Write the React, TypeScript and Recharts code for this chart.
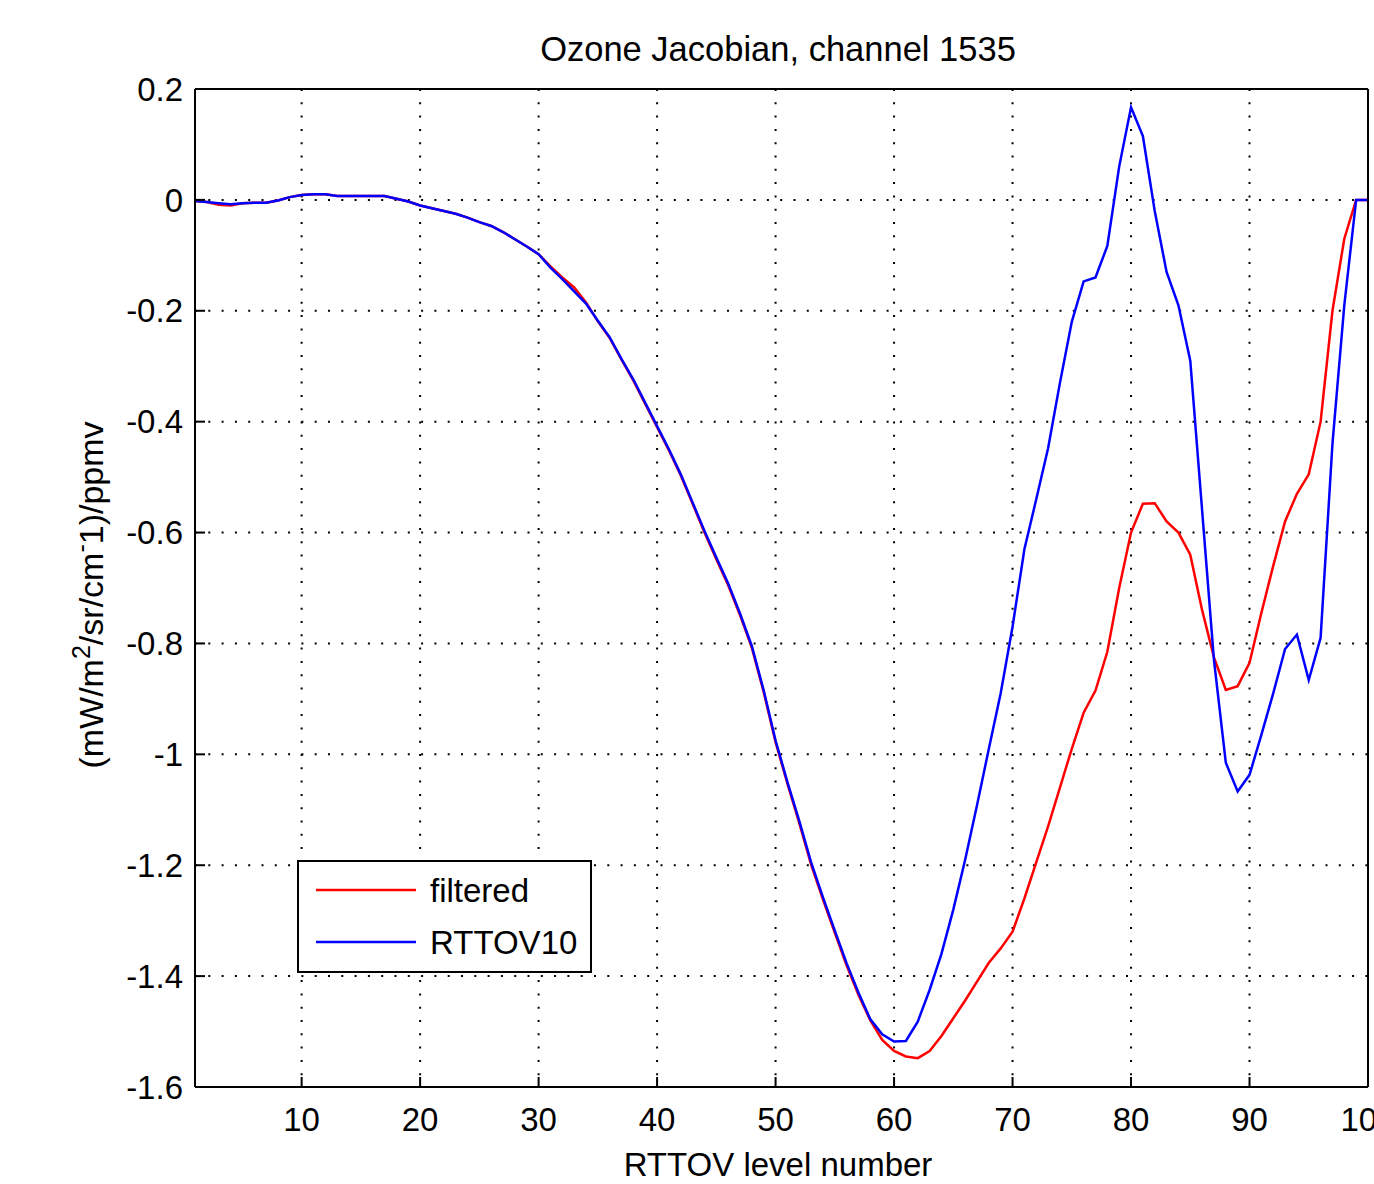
import { LineChart, Line, XAxis, YAxis, CartesianGrid, Legend } from "recharts";

// RTTOV levels 1..100
const levels = Array.from({ length: 100 }, (_, i) => i + 1);

const rttov10 = [
  -0.002, -0.004, -0.006, -0.008, -0.006, -0.005, -0.005, -0.001, 0.005, 0.009,
  0.010, 0.010, 0.007, 0.007, 0.007, 0.007, 0.007, 0.002, -0.003, -0.010,
  -0.015, -0.020, -0.025, -0.032, -0.040, -0.047, -0.058, -0.071, -0.084, -0.098,
  -0.122, -0.143, -0.165, -0.187, -0.218, -0.248, -0.287, -0.324, -0.366, -0.408,
  -0.450, -0.495, -0.546, -0.597, -0.645, -0.692, -0.746, -0.805, -0.885, -0.975,
  -1.050, -1.120, -1.195, -1.258, -1.318, -1.377, -1.430, -1.478, -1.505, -1.518,
  -1.517, -1.482, -1.425, -1.360, -1.280, -1.190, -1.092, -0.990, -0.890, -0.770,
  -0.630, -0.540, -0.448, -0.330, -0.220, -0.147, -0.140, -0.083, 0.060, 0.167,
  0.115, -0.020, -0.130, -0.190, -0.290, -0.560, -0.830, -1.015, -1.067, -1.037,
  -0.965, -0.890, -0.810, -0.784, -0.866, -0.790, -0.440, -0.190, 0.000, 0.000,
];

const filtered = [
  -0.002, -0.004, -0.009, -0.010, -0.006, -0.005, -0.005, -0.001, 0.005, 0.009,
  0.010, 0.010, 0.007, 0.007, 0.007, 0.007, 0.007, 0.002, -0.003, -0.010,
  -0.015, -0.020, -0.025, -0.032, -0.040, -0.047, -0.058, -0.071, -0.084, -0.098,
  -0.120, -0.140, -0.158, -0.185, -0.219, -0.249, -0.288, -0.326, -0.368, -0.410,
  -0.452, -0.497, -0.548, -0.600, -0.648, -0.695, -0.749, -0.808, -0.888, -0.978,
  -1.053, -1.124, -1.199, -1.262, -1.322, -1.381, -1.434, -1.480, -1.515, -1.535,
  -1.545, -1.548, -1.535, -1.508, -1.476, -1.444, -1.410, -1.376, -1.350, -1.320,
  -1.260, -1.195, -1.130, -1.060, -0.990, -0.925, -0.885, -0.815, -0.700, -0.600,
  -0.548, -0.547, -0.580, -0.600, -0.640, -0.740, -0.825, -0.884, -0.877, -0.835,
  -0.745, -0.660, -0.580, -0.530, -0.495, -0.400, -0.200, -0.070, 0.000, 0.000,
];

const xTicks = [10, 20, 30, 40, 50, 60, 70, 80, 90, 100];
const yTicks = [0.2, 0, -0.2, -0.4, -0.6, -0.8, -1, -1.2, -1.4, -1.6];

const data = levels.map((level, i) => ({
  level,
  filtered: filtered[i],
  rttov10: rttov10[i],
}));

const FONT = "'Liberation Sans', Arial, Helvetica, sans-serif";
const FS = 33;

const LegendBox = () => (
  <div
    style={{
      width: 295,
      height: 113,
      boxSizing: "border-box",
      border: "2px solid #000",
      background: "#fff",
      position: "relative",
    }}
  >
    <svg width={291} height={109} style={{ position: "absolute", left: 0, top: 0 }}>
      <line x1={17} x2={117} y1={28} y2={28} stroke="#ff0000" strokeWidth={2.5} />
      <line x1={17} x2={117} y1={80} y2={80} stroke="#0000ff" strokeWidth={2.5} />
      <text x={131} y={40} fontFamily={FONT} fontSize={FS} fill="#000">filtered</text>
      <text x={131} y={92} fontFamily={FONT} fontSize={FS} fill="#000">RTTOV10</text>
    </svg>
  </div>
);

export default function App() {
  return (
    <div style={{ position: "absolute", left: 0, top: 0, width: 1374, height: 1184, background: "#fff" }}>
      <LineChart
        width={1374}
        height={1184}
        data={data}
        margin={{ top: 88, right: 5, bottom: 37, left: 115 }}
        style={{ fontFamily: FONT }}
      >
        <CartesianGrid stroke="#000" strokeWidth={2} strokeDasharray="2 11.3" />
        <XAxis
          xAxisId={0}
          dataKey="level"
          type="number"
          domain={[1, 100]}
          ticks={xTicks}
          interval={0}
          allowDataOverflow
          height={60}
          tickSize={-10}
          tickMargin={31}
          stroke="#000"
          strokeWidth={2}
          tick={{ fill: "#000", fontSize: FS, fontFamily: FONT }}
          label={{
            content: () => (
              <text x={778} y={1176} textAnchor="middle" fontFamily={FONT} fontSize={FS} fill="#000">
                RTTOV level number
              </text>
            ),
          }}
        />
        <XAxis
          xAxisId="top"
          orientation="top"
          dataKey="level"
          type="number"
          domain={[1, 100]}
          ticks={xTicks}
          interval={0}
          allowDataOverflow
          height={1}
          tickSize={-10}
          tick={false}
          stroke="#000"
          strokeWidth={2}
          label={{
            content: () => (
              <text x={778} y={61} textAnchor="middle" fontFamily={FONT} fontSize={34.5} fill="#000">
                Ozone Jacobian, channel 1535
              </text>
            ),
          }}
        />
        <YAxis
          yAxisId={0}
          type="number"
          domain={[-1.6, 0.2]}
          ticks={yTicks}
          interval={0}
          allowDataOverflow
          width={80}
          tickSize={-10}
          tickMargin={22}
          stroke="#000"
          strokeWidth={2}
          tick={{ fill: "#000", fontSize: FS, fontFamily: FONT }}
          label={{
            content: () => (
              <text
                x={103}
                y={595}
                transform="rotate(-90 103 595)"
                textAnchor="middle"
                fontFamily={FONT}
                fontSize={34}
                fill="#000"
              >
                (mW/m<tspan dy={-13} fontSize={25}>2</tspan>
                <tspan dy={13}>/sr/cm</tspan>
                <tspan dy={-13} fontSize={25}>-</tspan>
                <tspan dy={13}>1)/ppmv</tspan>
              </text>
            ),
          }}
        />
        <YAxis
          yAxisId="right"
          orientation="right"
          type="number"
          domain={[-1.6, 0.2]}
          ticks={yTicks}
          interval={0}
          allowDataOverflow
          width={1}
          tickSize={-10}
          tick={false}
          stroke="#000"
          strokeWidth={2}
        />
        <Legend
          layout="horizontal"
          verticalAlign="middle"
          align="center"
          content={() => <LegendBox />}
          wrapperStyle={{ position: "absolute", left: 297, top: 860, width: 295, height: 113 }}
        />
        <Line
          type="linear"
          dataKey="filtered"
          stroke="#ff0000"
          strokeWidth={2.5}
          dot={false}
          isAnimationActive={false}
        />
        <Line
          type="linear"
          dataKey="rttov10"
          stroke="#0000ff"
          strokeWidth={2.5}
          dot={false}
          isAnimationActive={false}
        />
      </LineChart>
    </div>
  );
}
